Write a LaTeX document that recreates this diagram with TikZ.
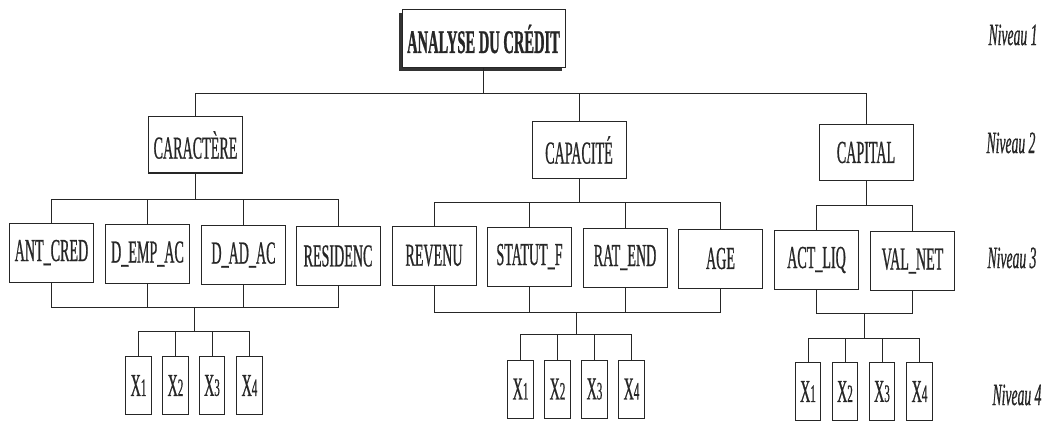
\documentclass[tikz,border=0pt]{standalone}
\usepackage{fontspec}
\setmainfont{Liberation Serif}
\newfontfamily\condfont[FakeStretch=0.44,FakeBold=0.6]{Liberation Serif}
\newfontfamily\titlefont[FakeStretch=0.44,FakeBold=0.8]{Liberation Serif}
\newcommand{\xsub}[2]{#1{\fontsize{25}{25}\selectfont #2}}
\begin{document}
\begin{tikzpicture}[x=1pt,y=-1pt,
  box/.style={draw=black!85, line width=1pt, fill=white, inner sep=0pt,
    font=\condfont\fontsize{32}{32}\selectfont, text=black!85},
  l2/.style={box, minimum width=94pt, minimum height=56pt},
  l3/.style={box, minimum width=84pt, minimum height=59pt},
  l4/.style={box, minimum width=25.5pt, minimum height=58pt},
  link/.style={draw=black!85, line width=1pt},
  lvl/.style={inner sep=0pt, font=\condfont\itshape\fontsize{31}{31}\selectfont, text=black!85}
]
\fill[white] (0,0) rectangle (1048,422);
\useasboundingbox (0,0) rectangle (1048,422);

% Level 1
\fill[black!80] (399,13) rectangle (562,71);
\node[box, minimum width=163pt, minimum height=58pt,
      font=\titlefont\bfseries\fontsize{33}{33}\selectfont] (top) at (483.5,39) {ANALYSE DU CRÉDIT};

% Level 2
\node[l2] (car)  at (195.5,145) {CARACTÈRE};
\node[l2] (capa) at (579,150) {CAPACITÉ};
\node[l2] (capi) at (866,152.5) {CAPITAL};

% Level 3
\node[l3] (ant)  at (51.5,252.5) {ANT\_CRED};
\node[l3] (demp) at (147.5,254) {D\_EMP\_AC};
\node[l3] (dad)  at (243.5,255) {D\_AD\_AC};
\node[l3] (res)  at (338,256) {RESIDENC};
\node[l3] (rev)  at (434,255.5) {REVENU};
\node[l3] (stat) at (529.5,256.5) {STATUT\_F};
\node[l3] (rat)  at (625,257.5) {RAT\_END};
\node[l3] (age)  at (720.5,258.5) {AGE};
\node[l3] (act)  at (816.5,260) {ACT\_LIQ};
\node[l3] (val)  at (912.5,261) {VAL\_NET};

% Level 4
\node[l4] (xa1) at (138.5,385.5) {\xsub{X}{1}};
\node[l4] (xa2) at (175.5,385.5) {\xsub{X}{2}};
\node[l4] (xa3) at (212,385.5) {\xsub{X}{3}};
\node[l4] (xa4) at (249.5,385.5) {\xsub{X}{4}};
\node[l4] (xb1) at (520.5,389) {\xsub{X}{1}};
\node[l4] (xb2) at (557.5,389) {\xsub{X}{2}};
\node[l4] (xb3) at (594.5,389) {\xsub{X}{3}};
\node[l4] (xb4) at (631.5,389) {\xsub{X}{4}};
\node[l4] (xc1) at (808,391.5) {\xsub{X}{1}};
\node[l4] (xc2) at (845,391.5) {\xsub{X}{2}};
\node[l4] (xc3) at (882,391.5) {\xsub{X}{3}};
\node[l4] (xc4) at (919.5,391.5) {\xsub{X}{4}};

% Level labels
\node[lvl] (n1) at (1013,35) {Niveau 1};
\node[lvl] (n2) at (1011,143) {Niveau 2};
\node[lvl] (n3) at (1012,258) {Niveau 3};
\node[lvl] (n4) at (1017,395) {Niveau 4};

% Level 1 -> 2
\coordinate (b1) at (483.5,94);
\draw[link] (top.south) -- (top.south |- b1);
\draw[link] (car.north) |- (capi.north |- b1) -- (capi.north);
\draw[link] (capa.north) -- (capa.north |- b1);

% Level 2 -> 3
\coordinate (ba) at (0,199);
\draw[link] (car.south) -- (car.south |- ba);
\draw[link] (ant.north) |- (res.north |- ba) -- (res.north);
\draw[link] (demp.north) -- (demp.north |- ba);
\draw[link] (dad.north) -- (dad.north |- ba);

\coordinate (bb) at (0,202);
\draw[link] (capa.south) -- (capa.south |- bb);
\draw[link] (rev.north) |- (age.north |- bb) -- (age.north);
\draw[link] (stat.north) -- (stat.north |- bb);
\draw[link] (rat.north) -- (rat.north |- bb);

\coordinate (bc) at (0,205);
\draw[link] (capi.south) -- (capi.south |- bc);
\draw[link] (act.north) |- (val.north |- bc) -- (val.north);

% Level 3 -> 4
\coordinate (ca) at (0,307);
\coordinate (ea) at (0,331);
\coordinate (ma) at (194,331);
\draw[link] (ant.south) |- (res.south |- ca) -- (res.south);
\draw[link] (demp.south) -- (demp.south |- ca);
\draw[link] (dad.south) -- (dad.south |- ca);
\draw[link] (ma |- ca) -- (ma);
\draw[link] (xa1.north) |- (xa4.north |- ea) -- (xa4.north);
\draw[link] (xa2.north) -- (xa2.north |- ea);
\draw[link] (xa3.north) -- (xa3.north |- ea);

\coordinate (cb) at (0,312);
\coordinate (eb) at (0,334);
\coordinate (mb) at (576,334);
\draw[link] (rev.south) |- (age.south |- cb) -- (age.south);
\draw[link] (stat.south) -- (stat.south |- cb);
\draw[link] (rat.south) -- (rat.south |- cb);
\draw[link] (mb |- cb) -- (mb);
\draw[link] (xb1.north) |- (xb4.north |- eb) -- (xb4.north);
\draw[link] (xb2.north) -- (xb2.north |- eb);
\draw[link] (xb3.north) -- (xb3.north |- eb);

\coordinate (cc) at (0,313);
\coordinate (ec) at (0,338);
\coordinate (mc) at (864,338);
\draw[link] (act.south) |- (val.south |- cc) -- (val.south);
\draw[link] (mc |- cc) -- (mc);
\draw[link] (xc1.north) |- (xc4.north |- ec) -- (xc4.north);
\draw[link] (xc2.north) -- (xc2.north |- ec);
\draw[link] (xc3.north) -- (xc3.north |- ec);
\end{tikzpicture}
\end{document}
